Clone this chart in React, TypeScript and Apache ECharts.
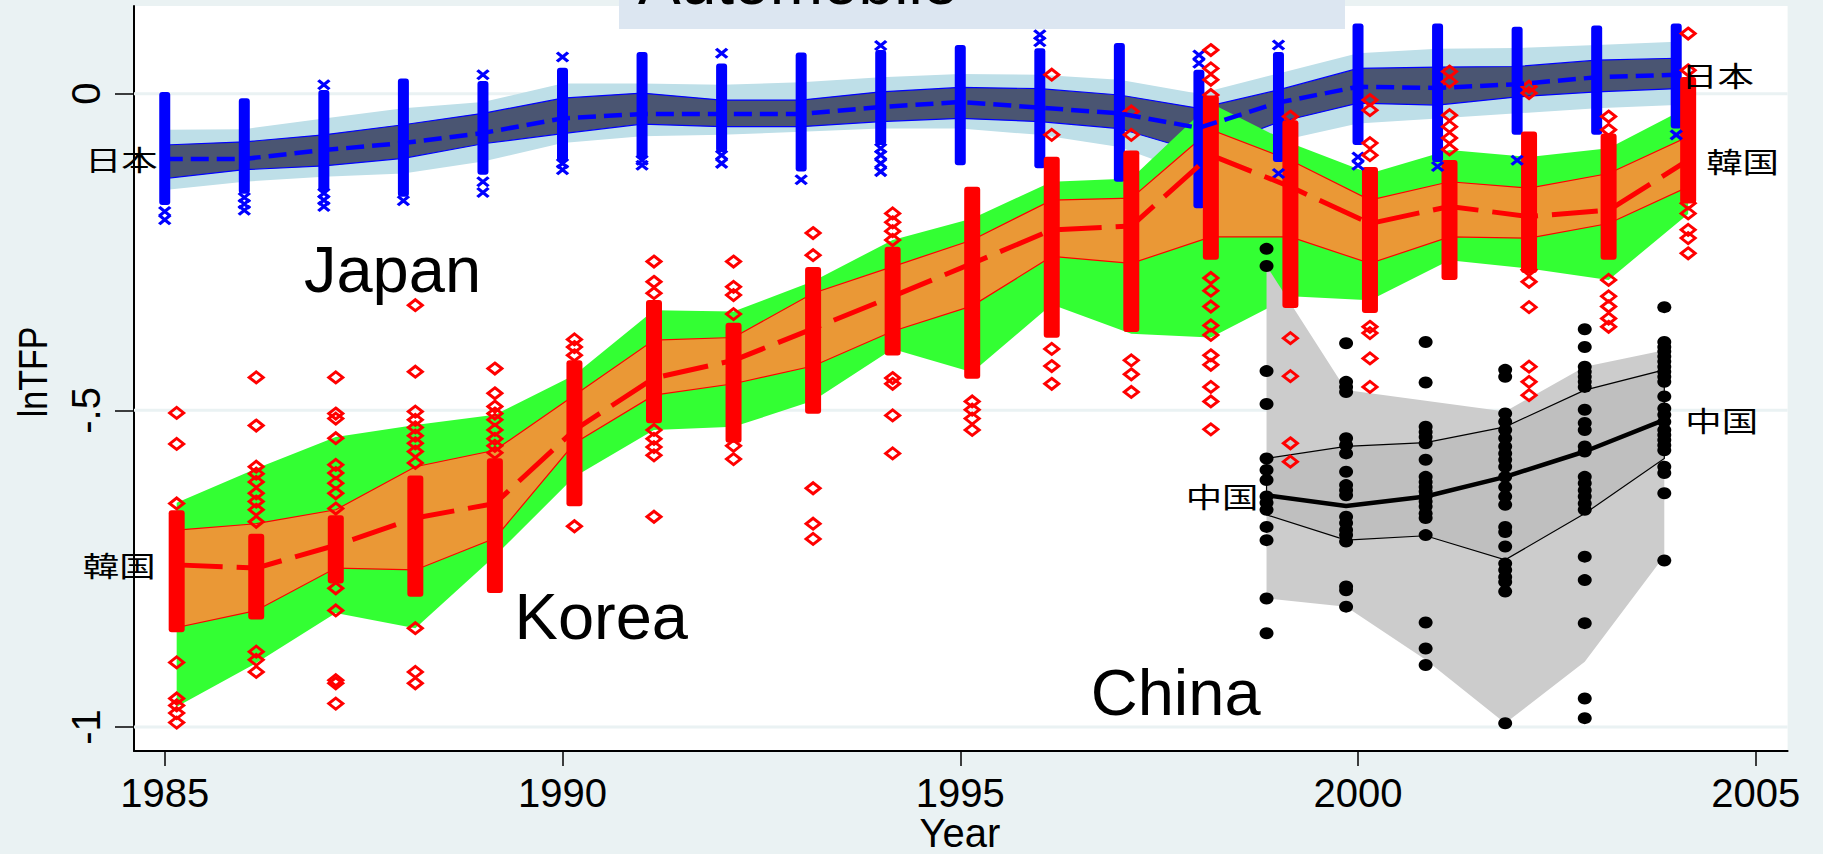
import React, { useEffect, useRef } from "react";
import * as echarts from "echarts";

// ---------- data ----------
const years = [
  1985, 1986, 1987, 1988, 1989, 1990, 1991, 1992, 1993, 1994,
  1995, 1996, 1997, 1998, 1999, 2000, 2001, 2002, 2003, 2004,
];
const chinaYears = [1999, 2000, 2001, 2002, 2003, 2004];

const xTicks = [1985, 1990, 1995, 2000, 2005];
const yTicks = [-1, -0.5, 0];
const yTickLabels = ["-1", "-.5", "0"];

// Japan (日本): median, inner and outer percentile bands
const japanMedian = [
  -0.103, -0.103, -0.089, -0.078, -0.062, -0.039, -0.032, -0.032, -0.032, -0.021,
  -0.013, -0.022, -0.031, -0.054, -0.014, 0.011, 0.009, 0.015, 0.026, 0.03,
];
const japanInnerHi = [
  -0.081, -0.076, -0.065, -0.049, -0.031, -0.007, 0.001, -0.01, -0.01, 0.003,
  0.01, 0.008, -0.002, -0.023, 0.006, 0.04, 0.042, 0.043, 0.053, 0.056,
];
const japanInnerLo = [
  -0.134, -0.12, -0.114, -0.102, -0.079, -0.063, -0.048, -0.052, -0.052, -0.044,
  -0.039, -0.044, -0.055, -0.092, -0.045, -0.015, -0.018, -0.005, 0.003, 0.008,
];
const japanOuterHi = [
  -0.057, -0.056, -0.039, -0.023, -0.013, 0.016, 0.016, 0.014, 0.018, 0.026,
  0.031, 0.03, 0.022, 0.0, 0.032, 0.064, 0.071, 0.072, 0.077, 0.082,
];
const japanOuterLo = [
  -0.152, -0.139, -0.131, -0.126, -0.107, -0.078, -0.067, -0.065, -0.06, -0.055,
  -0.055, -0.065, -0.084, -0.13, -0.075, -0.047, -0.039, -0.031, -0.023, -0.018,
];
// span [low, high] where the firm markers of a year overlap into a solid column
const japanCore = [
  [-0.168, -0.005], [-0.15, -0.015], [-0.147, -0.002], [-0.155, 0.016], [-0.12, 0.012],
  [-0.1, 0.033], [-0.095, 0.058], [-0.084, 0.04], [-0.115, 0.057], [-0.073, 0.061],
  [-0.105, 0.069], [-0.11, 0.064], [-0.131, 0.072], [-0.173, 0.03], [-0.1, 0.058],
  [-0.073, 0.103], [-0.1, 0.103], [-0.057, 0.098], [-0.057, 0.1], [-0.047, 0.103],
];
// firms standing apart from the solid column
const japanLoose = [
  [-0.186, -0.199], [-0.164, -0.174, -0.184], [0.014, -0.157, -0.168, -0.178], [-0.169],
  [0.03, -0.139, -0.156], [0.058, -0.11, -0.12], [-0.105, -0.113], [0.064, -0.097, -0.11],
  [-0.136], [0.076, -0.086, -0.097, -0.11, -0.123], [], [0.093, 0.082], [], [0.061, 0.048],
  [0.077, -0.126], [-0.1, -0.113], [-0.115], [-0.105], [], [-0.065],
];

// Korea (韓国)
const koreaMedian = [
  -0.744, -0.749, -0.713, -0.67, -0.647, -0.531, -0.449, -0.421, -0.371, -0.32,
  -0.268, -0.215, -0.209, -0.097, -0.147, -0.205, -0.178, -0.194, -0.184, -0.105,
];
const koreaInnerHi = [
  -0.689, -0.679, -0.657, -0.589, -0.563, -0.476, -0.389, -0.385, -0.315, -0.273,
  -0.231, -0.168, -0.165, -0.057, -0.105, -0.168, -0.139, -0.149, -0.126, -0.068,
];
const koreaInnerLo = [
  -0.843, -0.816, -0.749, -0.752, -0.702, -0.552, -0.476, -0.458, -0.43, -0.375,
  -0.335, -0.257, -0.268, -0.226, -0.226, -0.268, -0.226, -0.228, -0.205, -0.147,
];
const koreaOuterHi = [
  -0.646, -0.592, -0.542, -0.523, -0.507, -0.444, -0.342, -0.344, -0.296, -0.231,
  -0.197, -0.139, -0.134, -0.015, -0.078, -0.126, -0.089, -0.1, -0.086, -0.021,
];
const koreaOuterLo = [
  -0.968, -0.899, -0.82, -0.844, -0.73, -0.605, -0.531, -0.526, -0.485, -0.403,
  -0.44, -0.333, -0.379, -0.385, -0.32, -0.326, -0.263, -0.276, -0.294, -0.19,
];
const koreaCore = [
  [-0.84, -0.668], [-0.82, -0.705], [-0.763, -0.676], [-0.784, -0.613], [-0.778, -0.586],
  [-0.641, -0.431], [-0.51, -0.336], [-0.541, -0.372], [-0.495, -0.284], [-0.403, -0.252],
  [-0.44, -0.157], [-0.375, -0.11], [-0.366, -0.1], [-0.252, -0.013], [-0.328, -0.052],
  [-0.336, -0.126], [-0.284, -0.115], [-0.273, -0.07], [-0.252, -0.073], [-0.163, 0.016],
];
const koreaLoose = [
  [-0.504, -0.553, -0.647, -0.898, -0.955, -0.966, -0.978, -0.993],
  [-0.448, -0.524, -0.589, -0.6, -0.613, -0.631, -0.644, -0.657, -0.676, -0.881, -0.894, -0.913],
  [-0.448, -0.505, -0.513, -0.544, -0.586, -0.599, -0.615, -0.631, -0.655, -0.781, -0.816, -0.926, -0.931, -0.963],
  [-0.334, -0.439, -0.502, -0.515, -0.527, -0.54, -0.552, -0.565, -0.583, -0.844, -0.913, -0.931],
  [-0.434, -0.473, -0.494, -0.505, -0.515, -0.531, -0.545, -0.556, -0.567],
  [-0.388, -0.4, -0.413, -0.683],
  [-0.265, -0.297, -0.315, -0.531, -0.545, -0.558, -0.571, -0.668],
  [-0.265, -0.305, -0.318, -0.348, -0.556, -0.577],
  [-0.22, -0.255, -0.623, -0.679, -0.703],
  [-0.189, -0.203, -0.217, -0.231, -0.449, -0.458, -0.508, -0.568],
  [-0.486, -0.499, -0.513, -0.531],
  [0.03, -0.065, -0.403, -0.43, -0.458],
  [-0.028, -0.065, -0.421, -0.443, -0.471],
  [0.069, 0.04, 0.022, -0.002, -0.291, -0.311, -0.336, -0.366, -0.381, -0.413, -0.428, -0.463, -0.486, -0.53],
  [-0.036, -0.386, -0.446, -0.552, -0.581],
  [-0.01, -0.026, -0.078, -0.097, -0.368, -0.378, -0.418, -0.463],
  [0.035, 0.019, -0.034, -0.052, -0.07, -0.088],
  [0.011, 0.001, -0.278, -0.297, -0.337, -0.431, -0.455, -0.476],
  [-0.036, -0.057, -0.294, -0.32, -0.336, -0.355, -0.368],
  [0.095, 0.037, -0.173, -0.189, -0.215, -0.228, -0.252],
];

// China (中国)
const chinaMedian = [-0.634, -0.651, -0.636, -0.605, -0.565, -0.515];
const chinaInnerHi = [-0.576, -0.557, -0.551, -0.526, -0.468, -0.436];
const chinaInnerLo = [-0.665, -0.705, -0.698, -0.736, -0.663, -0.576];
const chinaOuterHi = [-0.272, -0.468, -0.485, -0.502, -0.431, -0.405];
const chinaOuterLo = [-0.797, -0.81, -0.894, -0.994, -0.897, -0.73];
const chinaFirms = [
  [-0.245, -0.272, -0.438, -0.49, -0.576, -0.594, -0.61, -0.636, -0.646, -0.657, -0.684, -0.705, -0.797, -0.852],
  [-0.394, -0.455, -0.463, -0.471, -0.544, -0.555, -0.568, -0.597, -0.618, -0.626, -0.634, -0.668, -0.678, -0.689, -0.697, -0.707, -0.778, -0.784, -0.81],
  [-0.392, -0.456, -0.526, -0.534, -0.542, -0.552, -0.578, -0.605, -0.613, -0.621, -0.628, -0.636, -0.644, -0.652, -0.663, -0.67, -0.697, -0.835, -0.876, -0.902],
  [-0.436, -0.447, -0.505, -0.518, -0.531, -0.544, -0.557, -0.568, -0.578, -0.589, -0.605, -0.621, -0.636, -0.649, -0.684, -0.692, -0.715, -0.742, -0.752, -0.763, -0.771, -0.786, -0.994],
  [-0.372, -0.4, -0.431, -0.439, -0.447, -0.455, -0.463, -0.499, -0.52, -0.531, -0.557, -0.565, -0.605, -0.615, -0.626, -0.636, -0.647, -0.657, -0.731, -0.768, -0.836, -0.955, -0.986],
  [-0.337, -0.392, -0.4, -0.407, -0.415, -0.423, -0.431, -0.439, -0.447, -0.455, -0.478, -0.497, -0.507, -0.518, -0.531, -0.539, -0.547, -0.555, -0.563, -0.589, -0.599, -0.631, -0.737],
];

// ---------- layout & style ----------
const X_MIN = 1984.6135;
const X_MAX = 2005.4;
const Y_MIN = -1.0379;
const Y_MAX = 0.1385;
// horizontal offset of each country's markers around the year
const SHIFT = { japan: 0, korea: 0.15, china: -0.15 };

const LATIN = '"Liberation Sans", Arial, Helvetica, sans-serif';
const CJK = '"Noto Sans CJK JP", "Noto Sans CJK SC", sans-serif';
const BG = "#eaf2f3";

const C = {
  jpOuter: "#bedfe8",
  jpInner: "#4a5572",
  jpLine: "#0000ff",
  krOuter: "#33ff33",
  krInner: "#ea9836",
  krLine: "#ff0000",
  cnOuter: "#cccccc",
  cnInner: "#bfbfbf",
  cnLine: "#000000",
};

const shifted = (ys: number[], s: number) => ys.map((y) => y + s);

function bandSeries(xs: number[], lo: number[], hi: number[], fill: string, stroke?: string) {
  return {
    type: "custom",
    silent: true,
    clip: true,
    data: [[xs[0], hi[0]]],
    renderItem: (_p: any, api: any) => {
      const pts: number[][] = xs.map((x, i) => api.coord([x, hi[i]]));
      for (let i = xs.length - 1; i >= 0; i--) pts.push(api.coord([xs[i], lo[i]]));
      return {
        type: "polygon",
        shape: { points: pts },
        style: { fill, stroke: stroke || "none", lineWidth: stroke ? 1.2 : 0 },
      };
    },
  };
}

function lineSeries(xs: number[], mid: number[], color: string, width: number, dash: any) {
  return {
    type: "line",
    silent: true,
    symbol: "none",
    clip: true,
    data: xs.map((x, i) => [x, mid[i]]),
    lineStyle: { color, width, type: dash, cap: "butt" },
  };
}

function coreSeries(xs: number[], core: number[][], width: number, cap: number, color: string) {
  return {
    type: "custom",
    silent: true,
    clip: true,
    data: xs.map((x, i) => [x, core[i][0], core[i][1]]),
    encode: { x: 0, y: [1, 2] },
    renderItem: (_p: any, api: any) => {
      const x = api.value(0);
      const top = api.coord([x, api.value(2)]);
      const bot = api.coord([x, api.value(1)]);
      return {
        type: "rect",
        shape: { x: top[0] - width / 2, y: top[1] - cap / 2, width, height: bot[1] - top[1] + cap, r: 3 },
        style: { fill: color },
      };
    },
  };
}

function looseData(xs: number[], loose: number[][]) {
  const out: number[][] = [];
  xs.forEach((x, i) => loose[i].forEach((v) => out.push([x, v])));
  return out;
}

function gridLineSeries() {
  return {
    type: "custom",
    silent: true,
    data: yTicks.map((v) => [X_MIN, v]),
    renderItem: (_p: any, api: any) => {
      const a = api.coord([X_MIN, api.value(1)]);
      const b = api.coord([X_MAX, api.value(1)]);
      return {
        type: "line",
        shape: { x1: a[0], y1: a[1], x2: b[0], y2: b[1] },
        style: { stroke: BG, lineWidth: 3 },
      };
    },
  };
}

function buildOption() {
  const jx = shifted(years, SHIFT.japan);
  const kx = shifted(years, SHIFT.korea);
  const cx = shifted(chinaYears, SHIFT.china);
  return {
    animation: false,
    backgroundColor: BG,
    grid: {
      left: 134,
      top: 6,
      width: 1653.6,
      height: 745,
      show: true,
      backgroundColor: "#ffffff",
      borderWidth: 0,
    },
    xAxis: {
      type: "value",
      min: X_MIN,
      max: X_MAX,
      axisLine: { show: true, onZero: false, lineStyle: { color: "#000", width: 2 } },
      axisTick: { show: true, customValues: xTicks, length: 15, lineStyle: { color: "#000", width: 1.5 } },
      axisLabel: {
        customValues: xTicks,
        fontSize: 40,
        fontFamily: LATIN,
        color: "#000",
        margin: 22,
        formatter: (v: number) => String(Math.round(v)),
      },
      splitLine: { show: false },
    },
    yAxis: {
      type: "value",
      min: Y_MIN,
      max: Y_MAX,
      axisLine: { show: true, onZero: false, lineStyle: { color: "#000", width: 2 } },
      axisTick: { show: true, customValues: yTicks, length: 19, lineStyle: { color: "#000", width: 1.5 } },
      axisLabel: {
        customValues: yTicks,
        rotate: 90,
        fontSize: 40,
        fontFamily: LATIN,
        color: "#000",
        margin: 28,
        formatter: (v: number) => {
          const i = yTicks.findIndex((t) => Math.abs(t - v) < 1e-9);
          return i >= 0 ? yTickLabels[i] : "";
        },
      },
      splitLine: { show: false },
    },
    series: [
      gridLineSeries(),
      bandSeries(jx, japanOuterLo, japanOuterHi, C.jpOuter),
      bandSeries(jx, japanInnerLo, japanInnerHi, C.jpInner, C.jpLine),
      bandSeries(kx, koreaOuterLo, koreaOuterHi, C.krOuter),
      bandSeries(kx, koreaInnerLo, koreaInnerHi, C.krInner, C.krLine),
      bandSeries(cx, chinaOuterLo, chinaOuterHi, C.cnOuter),
      bandSeries(cx, chinaInnerLo, chinaInnerHi, C.cnInner, C.cnLine),
      lineSeries(jx, japanMedian, C.jpLine, 4.5, [18, 8]),
      lineSeries(kx, koreaMedian, C.krLine, 5, [46, 14]),
      lineSeries(cx, chinaMedian, C.cnLine, 4.5, "solid"),
      coreSeries(jx, japanCore, 11, 10, C.jpLine),
      {
        type: "scatter",
        silent: true,
        data: looseData(jx, japanLoose),
        symbol: "path://M0,0L10,10M10,0L0,10",
        symbolSize: [11, 9],
        itemStyle: { color: "rgba(0,0,0,0)", borderColor: C.jpLine, borderWidth: 3.2, opacity: 1 },
      },
      coreSeries(kx, koreaCore, 16, 13, C.krLine),
      {
        type: "scatter",
        silent: true,
        data: looseData(kx, koreaLoose),
        symbol: "diamond",
        symbolSize: [14, 11],
        itemStyle: { color: "rgba(0,0,0,0)", borderColor: C.krLine, borderWidth: 3, opacity: 1 },
      },
      {
        type: "scatter",
        silent: true,
        data: looseData(cx, chinaFirms),
        symbol: "circle",
        symbolSize: [14, 12],
        itemStyle: { color: "#000", opacity: 1 },
      },
    ],
  };
}

// country name tags at both ends of each median line: [text, country, end, side, gap]
const tags: [string, "japan" | "korea" | "china", "first" | "last", "left" | "right", number][] = [
  ["日本", "japan", "first", "left", 7],
  ["韓国", "korea", "first", "left", 21],
  ["中国", "china", "first", "left", 8],
  ["日本", "japan", "last", "right", 5],
  ["韓国", "korea", "last", "right", 18],
  ["中国", "china", "last", "right", 21],
];

// big country captions, anchored in data coordinates (left edge, text middle)
const captions: [string, number, number][] = [
  ["Japan", 1986.75, -0.2771],
  ["Korea", 1989.397, -0.826],
  ["China", 1996.64, -0.9455],
];

export default function App() {
  const ref = useRef<HTMLDivElement>(null);

  useEffect(() => {
    const el = ref.current;
    if (!el) return;
    const chart = echarts.init(el, null, { renderer: "svg" });
    chart.setOption(buildOption() as any);

    const toPx = (x: number, y: number) =>
      chart.convertToPixel({ gridIndex: 0 } as any, [x, y]) as unknown as number[];

    const series = {
      japan: { xs: years, mid: japanMedian },
      korea: { xs: years, mid: koreaMedian },
      china: { xs: chinaYears, mid: chinaMedian },
    };

    const graphic: any[] = [
      {
        type: "rect",
        z: 50,
        silent: true,
        shape: { x: 619, y: -40, width: 726, height: 69 },
        style: { fill: "#dce6f1" },
      },
      {
        type: "text",
        z: 51,
        silent: true,
        x: 638,
        y: -18,
        style: {
          text: "Automobile",
          font: `64px ${LATIN}`,
          fill: "#000",
          align: "left",
          verticalAlign: "middle",
        },
      },
      {
        type: "text",
        z: 51,
        silent: true,
        x: 33,
        y: 372,
        rotation: Math.PI / 2,
        scaleY: 1.2,
        style: {
          text: "lnTFP",
          font: `34px ${LATIN}`,
          fill: "#000",
          align: "center",
          verticalAlign: "middle",
        },
      },
      {
        type: "text",
        z: 51,
        silent: true,
        x: 960,
        y: 833,
        style: {
          text: "Year",
          font: `40px ${LATIN}`,
          fill: "#000",
          align: "center",
          verticalAlign: "middle",
        },
      },
    ];

    captions.forEach(([text, x, y]) => {
      const p = toPx(x, y);
      graphic.push({
        type: "text",
        z: 51,
        silent: true,
        x: p[0],
        y: p[1],
        style: { text, font: `65px ${LATIN}`, fill: "#000", align: "left", verticalAlign: "middle" },
      });
    });

    tags.forEach(([text, country, end, side, gap]) => {
      const s = series[country];
      const i = end === "first" ? 0 : s.xs.length - 1;
      const p = toPx(s.xs[i] + SHIFT[country], s.mid[i]);
      graphic.push({
        type: "text",
        z: 52,
        silent: true,
        x: side === "left" ? p[0] - gap : p[0] + gap,
        y: p[1],
        scaleX: 1.3,
        style: {
          text,
          font: `28px ${CJK}`,
          fill: "#000",
          align: side === "left" ? "right" : "left",
          verticalAlign: "middle",
        },
      });
    });

    chart.setOption({ graphic });

    return () => chart.dispose();
  }, []);

  return (
    <div
      ref={ref}
      style={{ position: "fixed", left: 0, top: 0, width: 1823, height: 854 }}
    />
  );
}
